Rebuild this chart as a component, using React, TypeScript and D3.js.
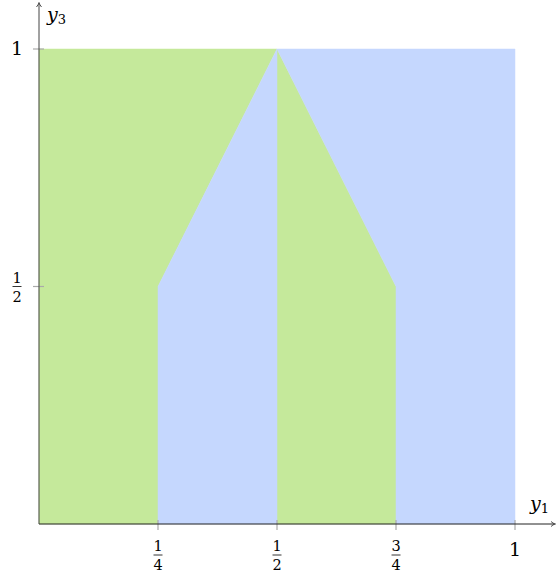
import React from 'react';
import * as d3 from 'd3';

// regions in data coordinates (y1, y3)
const greenRegions: [number, number][][] = [
  [[0, 0], [0.25, 0], [0.25, 0.5], [0.5, 1], [0, 1]],
  [[0.5, 0], [0.75, 0], [0.75, 0.5], [0.5, 1]],
];
const blueRegions: [number, number][][] = [
  [[0.25, 0], [0.5, 0], [0.5, 1], [0.25, 0.5]],
  [[0.75, 0], [1, 0], [1, 1], [0.5, 1], [0.75, 0.5]],
];

const xTicks = [0.25, 0.5, 0.75, 1];
const xTickLabels = [['1', '4'], ['1', '2'], ['3', '4'], ['1']];
const yTicks = [0.5, 1];
const yTickLabels = [['1', '2'], ['1']];

const GREEN = '#c5e99b';
const BLUE = '#c5d7fe';
const FONT = "'DejaVu Serif', 'Liberation Serif', serif";

const W = 557;
const H = 576;

const Label = ({ x, y, parts, anchorY }: { x: number; y: number; parts: string[]; anchorY: 'top' | 'middle' }) => {
  if (parts.length === 1) {
    const base = anchorY === 'top' ? y + 32 : y + 6;
    return (
      <text x={x} y={base} textAnchor="middle" fontSize={19} fontFamily={FONT} fill="#000">
        {parts[0]}
      </text>
    );
  }
  const bar = anchorY === 'top' ? y + 31 : y;
  return (
    <g>
      <text x={x} y={bar - 4} textAnchor="middle" fontSize={14.5} fontFamily={FONT} fill="#000">
        {parts[0]}
      </text>
      <line x1={x - 4.5} x2={x + 4.5} y1={bar} y2={bar} stroke="#000" strokeWidth={0.8} />
      <text x={x} y={bar + 15} textAnchor="middle" fontSize={14.5} fontFamily={FONT} fill="#000">
        {parts[1]}
      </text>
    </g>
  );
};

export default function App() {
  const x = d3.scaleLinear().domain([0, 1]).range([39, 515]);
  const y = d3.scaleLinear().domain([0, 1]).range([524, 49]);
  const line = d3.line<[number, number]>().x(d => x(d[0])).y(d => y(d[1]));

  return (
    <svg width={W} height={H} style={{ position: 'absolute', left: 0, top: 0 }}>
      {greenRegions.map((r, i) => (
        <path key={'g' + i} d={line(r) + 'Z'} fill={GREEN} stroke={GREEN} strokeWidth={0.5} />
      ))}
      {blueRegions.map((r, i) => (
        <path key={'b' + i} d={line(r) + 'Z'} fill={BLUE} stroke={BLUE} strokeWidth={0.5} />
      ))}

      {/* ticks */}
      {xTicks.map((t, i) => (
        <g key={'xt' + i}>
          <line x1={x(t)} x2={x(t)} y1={y(0) - 4} y2={y(0) + 6} stroke="#aaa" strokeWidth={1.2} />
          <Label x={x(t)} y={y(0)} parts={xTickLabels[i]} anchorY="top" />
        </g>
      ))}
      {yTicks.map((t, i) => (
        <g key={'yt' + i}>
          <line x1={x(0) - 6} x2={x(0) + 5} y1={y(t)} y2={y(t)} stroke="#aaa" strokeWidth={1.2} />
          <Label x={17} y={y(t)} parts={yTickLabels[i]} anchorY="middle" />
        </g>
      ))}

      {/* axes */}
      <line x1={x(0)} x2={554} y1={y(0)} y2={y(0)} stroke="#222" strokeWidth={1} />
      <path d={`M ${551} ${y(0) - 2.5} Q ${553} ${y(0) - 0.5} ${555.5} ${y(0)} Q ${553} ${y(0) + 0.5} ${551} ${y(0) + 2.5}`} fill="none" stroke="#222" strokeWidth={0.8} />
      <line x1={x(0)} x2={x(0)} y1={y(0)} y2={4} stroke="#444" strokeWidth={1} />
      <path d={`M ${x(0) - 2.5} 7 Q ${x(0) - 0.5} 4.5 ${x(0)} 2.5 Q ${x(0) + 0.5} 4.5 ${x(0) + 2.5} 7`} fill="none" stroke="#222" strokeWidth={0.8} />

      {/* axis labels */}
      <text x={530} y={510} fontSize={19} fontStyle="italic" fontFamily={FONT} fill="#000">
        y<tspan fontSize={13} fontStyle="normal" dy={3}>1</tspan>
      </text>
      <text x={47} y={21} fontSize={19} fontStyle="italic" fontFamily={FONT} fill="#000">
        y<tspan fontSize={13} fontStyle="normal" dy={3}>3</tspan>
      </text>
    </svg>
  );
}
